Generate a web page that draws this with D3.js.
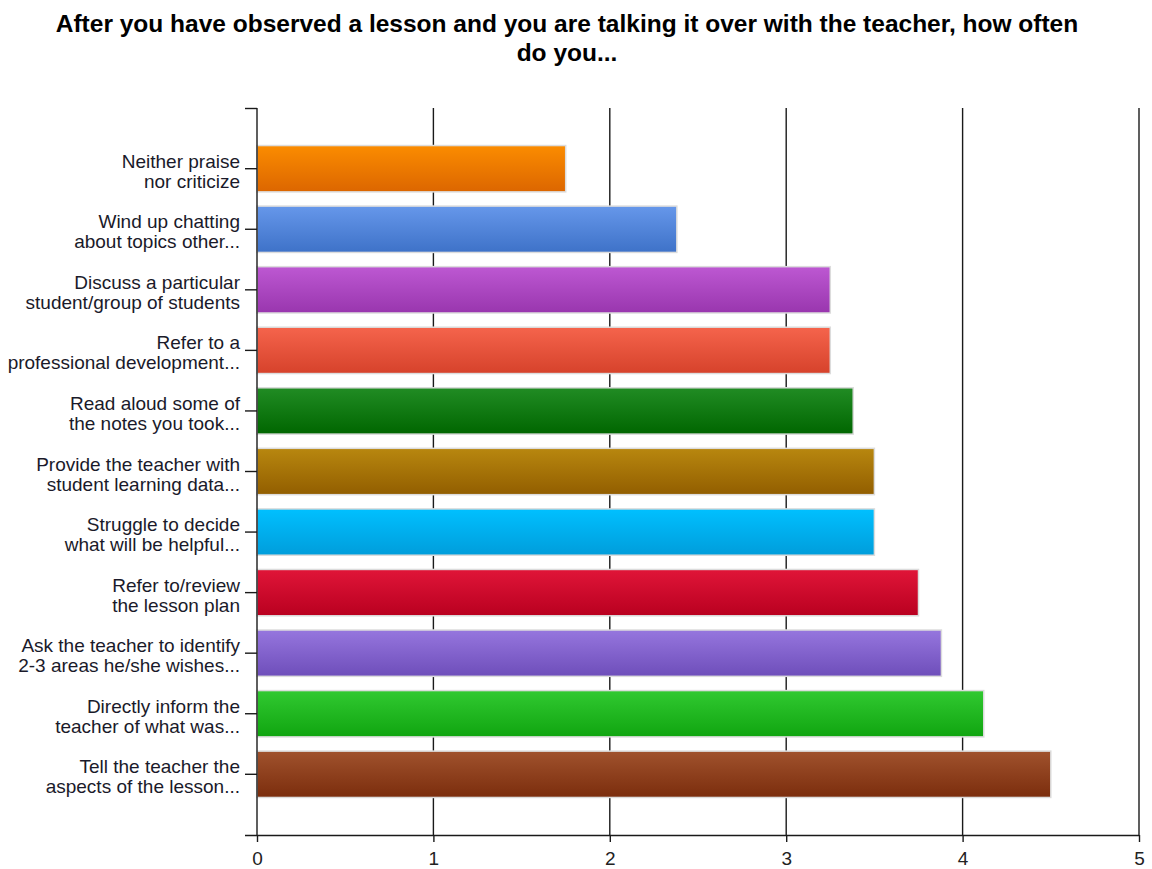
<!DOCTYPE html>
<html><head><meta charset="utf-8">
<script src="https://cdn.jsdelivr.net/npm/d3@7"></script>
<style>body{margin:0;background:#fff;} svg{display:block;}</style>
</head><body>
<svg id="chart" width="1152" height="869"></svg>
<script>
const titleLines = ["After you have observed a lesson and you are talking it over with the teacher, how often", "do you..."];
const categories = [
  ["Neither praise", "nor criticize"],
  ["Wind up chatting", "about topics other..."],
  ["Discuss a particular", "student/group of students"],
  ["Refer to a", "professional development..."],
  ["Read aloud some of", "the notes you took..."],
  ["Provide the teacher with", "student learning data..."],
  ["Struggle to decide", "what will be helpful..."],
  ["Refer to/review", "the lesson plan"],
  ["Ask the teacher to identify", "2-3 areas he/she wishes..."],
  ["Directly inform the", "teacher of what was..."],
  ["Tell the teacher the", "aspects of the lesson..."]
];
const values = [1.75, 2.38, 3.25, 3.25, 3.38, 3.5, 3.5, 3.75, 3.88, 4.12, 4.5];
const colorsTop = ["#fb8c00", "#6697ea", "#bd58d2", "#f5644c", "#218c24", "#b8870f", "#00c0ff", "#e01538", "#9676de", "#31c931", "#a0522d"];
const colorsBottom = ["#dc6600", "#3e72c8", "#9936ae", "#d6422b", "#006600", "#925e00", "#009ddb", "#b90020", "#6e4eba", "#10a510", "#7b2d0d"];
const xTicks = [0, 1, 2, 3, 4, 5];

const svg = d3.select("#chart");
const L = 257, R = 1139, T = 108, B = 835;
const FONT = "Liberation Sans, Arial, sans-serif";

const x = d3.scaleLinear().domain([0, 5]).range([L, R]);
const idx = d3.range(categories.length);
const y = d3.scaleBand().domain(idx).range([T, B]).paddingInner(0.235).paddingOuter(0.62);

// gradients
const defs = svg.append("defs");
idx.forEach(i => {
  const g = defs.append("linearGradient").attr("id", "g" + i).attr("x1", 0).attr("y1", 0).attr("x2", 0).attr("y2", 1);
  g.append("stop").attr("offset", "0%").attr("stop-color", colorsTop[i]);
  g.append("stop").attr("offset", "100%").attr("stop-color", colorsBottom[i]);
});

// title
svg.append("g").selectAll("text").data(titleLines).join("text")
  .attr("x", 567).attr("y", (d, i) => 32 + i * 29)
  .attr("text-anchor", "middle")
  .attr("font-family", FONT)
  .attr("font-weight", "bold").attr("font-size", 24.5).attr("fill", "#000")
  .text(d => d);

// vertical grid lines
svg.append("g").selectAll("line").data(xTicks.slice(1)).join("line")
  .attr("x1", d => x(d)).attr("x2", d => x(d)).attr("y1", T).attr("y2", B)
  .attr("stroke", "#1a1a1a").attr("stroke-width", 1.4);

// bars
svg.append("g").selectAll("rect").data(values).join("rect")
  .attr("x", x(0)).attr("y", (d, i) => y(i))
  .attr("width", d => x(d) - x(0)).attr("height", y.bandwidth())
  .attr("fill", (d, i) => `url(#g${i})`)
  .attr("stroke", "#dcdcdc").attr("stroke-width", 1.5);

// bottom axis
const xAxis = d3.axisBottom(x).tickValues(xTicks).tickSize(7).tickSizeOuter(0).tickFormat(d3.format("d"));
const gx = svg.append("g").attr("transform", `translate(0,${B})`).call(xAxis);
gx.select(".domain").attr("stroke", "#1a1a1a").attr("stroke-width", 1.4).attr("d", `M${L - 12},0.5H${R}`);
gx.selectAll(".tick line").attr("stroke", "#1a1a1a").attr("stroke-width", 1.4);
gx.selectAll(".tick text").attr("font-family", FONT).attr("font-size", 19).attr("fill", "#222")
  .attr("y", 0).attr("dy", 0).attr("transform", "translate(0,30)");

// left axis
svg.append("line").attr("x1", L).attr("x2", L).attr("y1", T).attr("y2", B).attr("stroke", "#1a1a1a").attr("stroke-width", 1.4);
svg.append("line").attr("x1", L - 12).attr("x2", L).attr("y1", T + 0.5).attr("y2", T + 0.5).attr("stroke", "#1a1a1a").attr("stroke-width", 1.4);
const ly = svg.append("g");
ly.selectAll("line").data(idx).join("line")
  .attr("x1", L - 12).attr("x2", L)
  .attr("y1", i => y(i) + y.bandwidth() / 2).attr("y2", i => y(i) + y.bandwidth() / 2)
  .attr("stroke", "#1a1a1a").attr("stroke-width", 1.4);

const labels = svg.append("g").selectAll("text").data(idx).join("text")
  .attr("text-anchor", "end")
  .attr("font-family", FONT)
  .attr("font-size", 19).attr("fill", "#1a1a2a");
labels.each(function(i) {
  const cy = y(i) + y.bandwidth() / 2;
  d3.select(this).selectAll("tspan").data(categories[i]).join("tspan")
    .attr("x", 240).attr("y", (d, k) => cy - 1 + k * 20)
    .text(d => d);
});
</script>
</body></html>
